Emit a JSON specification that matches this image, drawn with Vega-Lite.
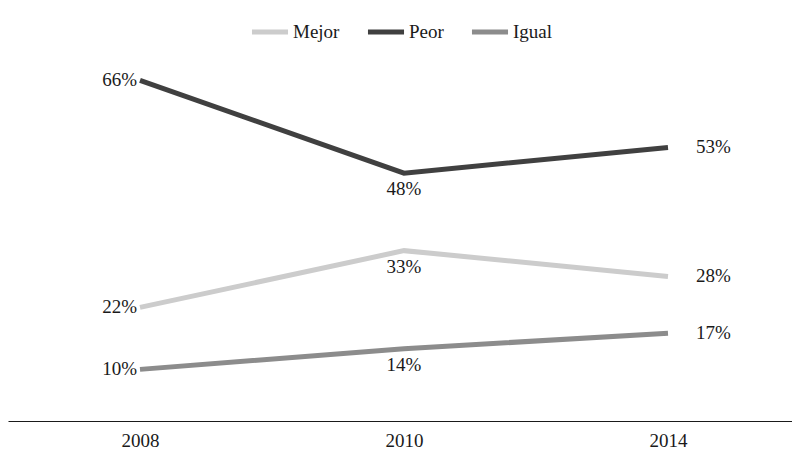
{
  "$schema": "https://vega.github.io/schema/vega-lite/v6.json",
  "autosize": {"type": "none"},
  "width": 792,
  "height": 413,
  "padding": {"left": 8, "top": 8, "right": 0, "bottom": 28},
  "background": "white",
  "config": {
    "view": {"stroke": null},
    "font": "Liberation Serif",
    "text": {"font": "Liberation Serif", "fontSize": 19, "color": "#1a1a1a"}
  },
  "data": {
    "values": [
      {"year": "2008", "series": "Mejor", "value": 22},
      {"year": "2010", "series": "Mejor", "value": 33},
      {"year": "2014", "series": "Mejor", "value": 28},
      {"year": "2008", "series": "Peor", "value": 66},
      {"year": "2010", "series": "Peor", "value": 48},
      {"year": "2014", "series": "Peor", "value": 53},
      {"year": "2008", "series": "Igual", "value": 10},
      {"year": "2010", "series": "Igual", "value": 14},
      {"year": "2014", "series": "Igual", "value": 17}
    ]
  },
  "transform": [{"calculate": "datum.value + '%'", "as": "label"}],
  "encoding": {
    "x": {
      "field": "year", "type": "ordinal",
      "scale": {"type": "point", "padding": 0.5},
      "axis": {
        "title": null, "labelAngle": 0, "ticks": false, "grid": false,
        "domainColor": "#1a1a1a", "domainWidth": 1.2,
        "labelFont": "Liberation Serif", "labelFontSize": 19, "labelColor": "#1a1a1a",
        "labelPadding": 10
      }
    },
    "y": {
      "field": "value", "type": "quantitative",
      "scale": {"domain": [0, 80]},
      "axis": null
    }
  },
  "layer": [
    {
      "mark": {"type": "line", "strokeWidth": 5},
      "encoding": {
        "color": {
          "field": "series", "type": "nominal",
          "scale": {"domain": ["Mejor", "Peor", "Igual"], "range": ["#cccccc", "#404040", "#8c8c8c"]},
          "legend": {
            "title": null, "orient": "none", "direction": "horizontal",
            "legendX": 241, "legendY": 3,
            "labelFont": "Liberation Serif", "labelFontSize": 19, "labelColor": "#1a1a1a",
            "symbolType": "stroke", "symbolSize": 1300, "symbolStrokeWidth": 5,
            "columnPadding": 17, "labelOffset": 2
          }
        }
      }
    },
    {
      "transform": [{"filter": "datum.year == '2008'"}],
      "mark": {"type": "text", "align": "right", "baseline": "middle", "dx": -3},
      "encoding": {"text": {"field": "label", "type": "nominal"}}
    },
    {
      "transform": [{"filter": "datum.year == '2010'"}],
      "mark": {"type": "text", "align": "center", "baseline": "top", "dy": 7},
      "encoding": {"text": {"field": "label", "type": "nominal"}}
    },
    {
      "transform": [{"filter": "datum.year == '2014'"}],
      "mark": {"type": "text", "align": "left", "baseline": "middle", "dx": 28},
      "encoding": {"text": {"field": "label", "type": "nominal"}}
    }
  ]
}
